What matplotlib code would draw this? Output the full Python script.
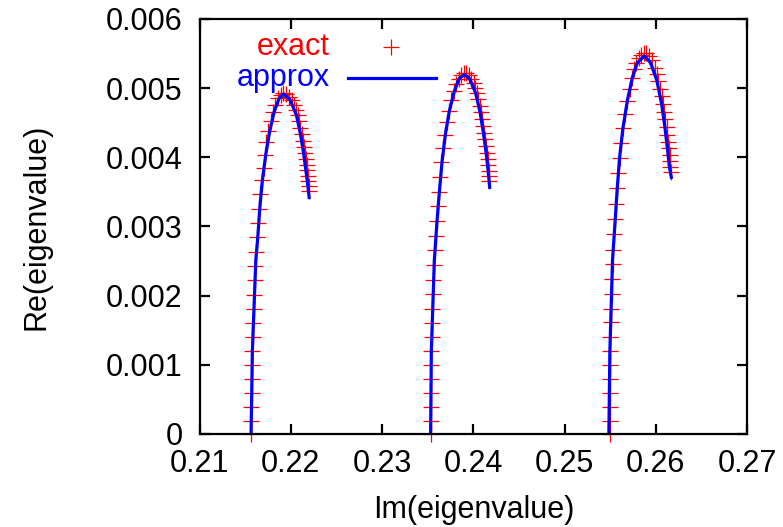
import matplotlib
matplotlib.use("Agg")
import matplotlib.pyplot as plt

plt.rcParams['font.family'] = ['Liberation Sans', 'DejaVu Sans']
plt.rcParams['font.size'] = 22

# exact eigenvalues (Im, Re), three branches
exact1_im = [0.21565, 0.21568, 0.21568, 0.21573, 0.21576, 0.21576, 0.21579, 0.21584, 0.21587,
             0.21598, 0.21601, 0.21606, 0.21612, 0.21620, 0.21631, 0.21642, 0.21653, 0.21667,
             0.21682, 0.21704, 0.21719, 0.21733, 0.21755, 0.21784, 0.21810, 0.21832, 0.21865,
             0.21891, 0.21919, 0.21949, 0.21982, 0.22011, 0.22040, 0.22062, 0.22077, 0.22092,
             0.22106, 0.22121, 0.22132, 0.22143, 0.22154, 0.22165, 0.22176, 0.22183, 0.22190,
             0.22194, 0.22198, 0.22198]
exact1_re = [0.0, 0.000184, 0.000395, 0.000593, 0.000795, 0.000993, 0.001195, 0.001398, 0.001605,
             0.001812, 0.002014, 0.002222, 0.002433, 0.002631, 0.002852, 0.003055, 0.003258, 0.003470,
             0.003672, 0.003850, 0.004038, 0.004217, 0.004385, 0.004529, 0.004655, 0.004761, 0.004853,
             0.004901, 0.004926, 0.004915, 0.004876, 0.004829, 0.004761, 0.004684, 0.004608, 0.004521,
             0.004424, 0.004337, 0.004241, 0.004154, 0.004067, 0.003980, 0.003894, 0.003817, 0.003730,
             0.003653, 0.003585, 0.003508]

exact2_im = [0.23532, 0.23532, 0.23536, 0.23532, 0.23536, 0.23536, 0.23540, 0.23543, 0.23547,
             0.23551, 0.23554, 0.23562, 0.23569, 0.23576, 0.23591, 0.23598, 0.23609, 0.23624,
             0.23638, 0.23649, 0.23668, 0.23690, 0.23712, 0.23734, 0.23759, 0.23789, 0.23811,
             0.23839, 0.23866, 0.23894, 0.23924, 0.23953, 0.23979, 0.24008, 0.24022, 0.24037,
             0.24055, 0.24070, 0.24085, 0.24096, 0.24107, 0.24118, 0.24129, 0.24140, 0.24151,
             0.24158, 0.24165, 0.24168, 0.24173, 0.24176]
exact2_re = [0.0, 0.000184, 0.000395, 0.000593, 0.000795, 0.000993, 0.001195, 0.001398, 0.001605,
             0.001812, 0.002020, 0.002231, 0.002443, 0.002656, 0.002867, 0.003075, 0.003296, 0.003503,
             0.003716, 0.003928, 0.004130, 0.004327, 0.004507, 0.004670, 0.004825, 0.004955, 0.005060,
             0.005137, 0.005195, 0.005224, 0.005214, 0.005186, 0.005137, 0.005070, 0.005002, 0.004926,
             0.004839, 0.004747, 0.004651, 0.004550, 0.004458, 0.004357, 0.004260, 0.004164, 0.004067,
             0.003976, 0.003885, 0.003807, 0.003730, 0.003663]

exact3_im = [0.25493, 0.25493, 0.25493, 0.25493, 0.25493, 0.25496, 0.25500, 0.25500, 0.25504,
             0.25511, 0.25515, 0.25518, 0.25526, 0.25533, 0.25544, 0.25551, 0.25562, 0.25573,
             0.25588, 0.25602, 0.25617, 0.25639, 0.25660, 0.25682, 0.25712, 0.25734, 0.25764,
             0.25786, 0.25815, 0.25840, 0.25866, 0.25895, 0.25924, 0.25953, 0.25986, 0.26008,
             0.26027, 0.26049, 0.26063, 0.26077, 0.26088, 0.26104, 0.26118, 0.26126, 0.26137,
             0.26143, 0.26151, 0.26154, 0.26158, 0.26165]
exact3_re = [0.0, 0.000184, 0.000390, 0.000593, 0.000795, 0.000993, 0.001195, 0.001398, 0.001615,
             0.001812, 0.002028, 0.002241, 0.002453, 0.002665, 0.002887, 0.003108, 0.003330, 0.003552,
             0.003773, 0.003990, 0.004203, 0.004420, 0.004626, 0.004814, 0.004992, 0.005151, 0.005277,
             0.005368, 0.005436, 0.005484, 0.005513, 0.005503, 0.005465, 0.005407, 0.005291, 0.005205,
             0.005108, 0.004992, 0.004886, 0.004771, 0.004659, 0.004550, 0.004434, 0.004327, 0.004222,
             0.004130, 0.004034, 0.003951, 0.003865, 0.003788]

# approximation curves
approx1_im = [0.21565, 0.21579, 0.21617, 0.21639, 0.21660, 0.21689, 0.21726, 0.21770, 0.21817,
              0.21872, 0.21924, 0.21993, 0.22062, 0.22106, 0.22139, 0.22165, 0.22187, 0.22201]
approx1_re = [0.0, 0.00120, 0.002516, 0.00285, 0.003258, 0.003672, 0.004038, 0.004385, 0.004655,
              0.004853, 0.004915, 0.004829, 0.004608, 0.004337, 0.004067, 0.003817, 0.003585, 0.00342]

approx2_im = [0.23532, 0.23540, 0.23573, 0.23602, 0.23628, 0.23657, 0.23693, 0.23737, 0.23792,
              0.23844, 0.23902, 0.23960, 0.24026, 0.24074, 0.24110, 0.24140, 0.24162, 0.24179]
approx2_re = [0.0, 0.00120, 0.002516, 0.003075, 0.003503, 0.003928, 0.004327, 0.004670, 0.004955,
              0.005137, 0.005195, 0.005137, 0.004926, 0.004651, 0.004357, 0.004067, 0.003807, 0.003567]

approx3_im = [0.25485, 0.25496, 0.25525, 0.25555, 0.25577, 0.25602, 0.25639, 0.25687, 0.25742,
              0.25797, 0.25873, 0.25942, 0.26011, 0.26063, 0.26099, 0.26126, 0.26148, 0.26169]
approx3_re = [0.0, 0.001195, 0.002516, 0.003108, 0.003552, 0.003990, 0.004420, 0.004814, 0.005151,
              0.005368, 0.005465, 0.005368, 0.005108, 0.004771, 0.004434, 0.004130, 0.003865, 0.003711]

x_ticks = [0.21, 0.22, 0.23, 0.24, 0.25, 0.26, 0.27]
y_ticks = [0, 0.001, 0.002, 0.003, 0.004, 0.005, 0.006]

fig = plt.figure(figsize=(7.83, 5.27), dpi=100)
ax = fig.add_axes([0.2548, 0.1765, 0.6994, 0.7875])

for xs, ys in [(exact1_im, exact1_re), (exact2_im, exact2_re), (exact3_im, exact3_re)]:
    ax.plot(xs, ys, linestyle='none', marker='+', color='#ff0000',
            markersize=11, markeredgewidth=0.9, clip_on=False)
for xs, ys in [(approx1_im, approx1_re), (approx2_im, approx2_re), (approx3_im, approx3_re)]:
    ax.plot(xs, ys, color='#0000ff', linewidth=2.3)

ax.set_xlim(0.21, 0.27)
ax.set_ylim(0, 0.006)
ax.set_xticks(x_ticks)
ax.set_yticks(y_ticks)
ax.set_xticklabels([str(t) for t in x_ticks])
ax.set_yticklabels(['0'] + [f'{t:.3f}' for t in y_ticks[1:]])

for s in ax.spines.values():
    s.set_linewidth(1.6)
ax.tick_params(direction='in', length=7, width=1.6, top=True, right=True)
ax.tick_params(axis='x', pad=11)
ax.tick_params(axis='y', pad=12)

ax.set_xlabel('Im(eigenvalue)', labelpad=11)
ax.set_ylabel('Re(eigenvalue)', labelpad=39)

# gnuplot style key
ax.text(0.2384, 0.9325, 'exact', color='#ff0000', ha='right', va='center', transform=ax.transAxes)
ax.text(0.2384, 0.8578, 'approx', color='#0000ff', ha='right', va='center', transform=ax.transAxes)
ax.plot([0.3498], [0.9325], marker='+', color='#ff0000', markersize=11, markeredgewidth=0.9,
        transform=ax.transAxes)
ax.plot([0.2712, 0.4320], [0.8578, 0.8578], color='#0000ff', linewidth=2.3, transform=ax.transAxes)

fig.savefig('out.png', dpi=100)
